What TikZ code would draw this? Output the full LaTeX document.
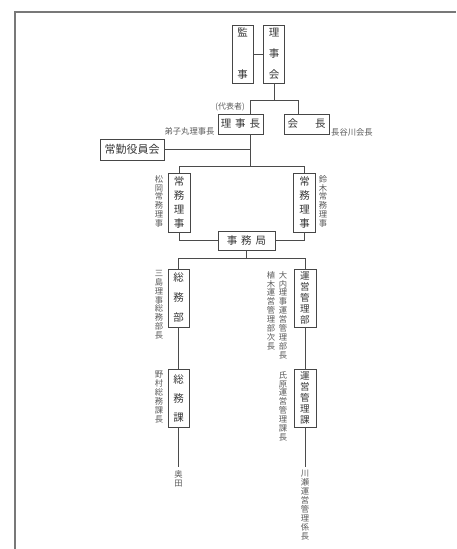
\documentclass[tikz,border=0pt]{standalone}
\usepackage{fontspec}
\setmainfont{Noto Sans CJK JP}
\definecolor{boxc}{RGB}{70,70,70}
\definecolor{linec}{RGB}{75,75,75}
\definecolor{txtc}{RGB}{55,55,55}
\definecolor{labc}{RGB}{90,90,90}
\definecolor{framec}{RGB}{120,120,120}
\tikzset{
  box/.style={draw=boxc, line width=0.8pt, inner sep=0pt, text=txtc, align=center},
  lab/.style={inner sep=0pt, text=labc, align=center, font=\fontsize{8.3}{8.9}\selectfont},
  conn/.style={draw=linec, line width=0.9pt},
  frame/.style={draw=framec, line width=1.4pt}
}
\begin{document}
\begin{tikzpicture}[x=1pt,y=-1pt]
\useasboundingbox (0,0) rectangle (456,549);
\draw[frame] (15,549) -- (15,12) -- (456,12);

% boxes
\node[box, minimum width=21pt, minimum height=58pt, font=\fontsize{10.5}{42}\selectfont] (kanji) at (242.5,54) {監\\事};
\node[box, minimum width=21pt, minimum height=58pt, font=\fontsize{10.5}{21}\selectfont] (rijikai) at (274,54) {理\\事\\会};
\node[box, minimum width=45pt, minimum height=20pt, font=\fontsize{10.5}{12}\selectfont] (rijicho) at (240.5,124) {理\hspace{4pt}事\hspace{4pt}長};
\node[box, minimum width=45pt, minimum height=20pt, font=\fontsize{10.5}{12}\selectfont] (kaicho) at (306.5,124) {会\hspace{17pt}長};
\node[box, minimum width=64pt, minimum height=21pt, font=\fontsize{11}{12}\selectfont] (joukin) at (132,149.5) {常勤役員会};
\node[box, minimum width=22pt, minimum height=59pt, font=\fontsize{10.5}{13.7}\selectfont] (jmL) at (179,202.5) {常\\務\\理\\事};
\node[box, minimum width=22pt, minimum height=59pt, font=\fontsize{10.5}{13.7}\selectfont] (jmR) at (304.5,202.5) {常\\務\\理\\事};
\node[box, minimum width=57pt, minimum height=19pt, font=\fontsize{10.5}{12}\selectfont] (jimu) at (246.5,240.5) {事\hspace{4pt}務\hspace{4pt}局};
\node[box, minimum width=21pt, minimum height=58pt, font=\fontsize{10.5}{20}\selectfont] (soumubu) at (178.5,298) {総\\務\\部};
\node[box, minimum width=21pt, minimum height=58pt, font=\fontsize{10.5}{19}\selectfont] (soumuka) at (178.5,398) {総\\務\\課};
\node[box, minimum width=22pt, minimum height=58pt, font=\fontsize{9.6}{11.2}\selectfont] (unbu) at (305,298) {運\\営\\管\\理\\部};
\node[box, minimum width=22pt, minimum height=58pt, font=\fontsize{9.6}{11.2}\selectfont] (unka) at (305,398) {運\\営\\管\\理\\課};

% labels
\node[lab, font=\fontsize{8}{9}\selectfont] (daihyo) at (230,107) {(代表者)};
\node[lab] (deshimaru) at (189.5,131) {弟子丸理事長};
\node[lab, anchor=west] (hasegawa) at (331,132) {長谷川会長};
\node[lab, anchor=north] (matsuoka) at (159,175) {松\\岡\\常\\務\\理\\事};
\node[lab, anchor=north] (suzuki) at (323,175) {鈴\\木\\常\\務\\理\\事};
\node[lab, anchor=north] (mishima) at (159,270) {三\\島\\理\\事\\総\\務\\部\\長};
\node[lab, anchor=north] (ouchi) at (283,271) {大\\内\\理\\事\\運\\営\\管\\理\\部\\長};
\node[lab, anchor=north] (ueki) at (271,271) {植\\木\\運\\営\\管\\理\\部\\次\\長};
\node[lab, anchor=north] (nomura) at (159,371) {野\\村\\総\\務\\課\\長};
\node[lab, anchor=north] (ujihara) at (283,371) {氏\\原\\運\\営\\管\\理\\課\\長};
\node[lab, anchor=north] (okuda) at (178.5,470) {奥\\田};
\node[lab, anchor=north] (kawase) at (305,470) {川\\瀬\\運\\営\\管\\理\\係\\長};

% connectors
\coordinate (j1l) at (250,100);
\coordinate (j1r) at (298,100);
\draw[conn] (kanji.east) -- (rijikai.west);
\draw[conn] (rijikai.south) -- (rijikai.south |- j1l);
\draw[conn] (j1l |- rijicho.north) -- (j1l) -- (j1r) -- (j1r |- kaicho.north);
\coordinate (t1) at (250,166);
\draw[conn] (t1 |- rijicho.south) -- (t1);
\draw[conn] (joukin.east) -- (joukin.east -| t1);
\draw[conn] (jmL.north) -- (jmL.north |- t1) -- (jmR.north |- t1) -- (jmR.north);
\draw[conn] (jmL.south) |- (jimu.west);
\draw[conn] (jmR.south) |- (jimu.east);
\coordinate (h2) at (247,258);
\draw[conn] (jimu.south) -- (jimu.south |- h2);
\draw[conn] (soumubu.north) -- (soumubu.north |- h2) -- (unbu.north |- h2) -- (unbu.north);
\draw[conn] (soumubu.south) -- (soumuka.north);
\draw[conn] (unbu.south) -- (unka.north);
\draw[conn, shorten >=3pt] (soumuka.south) -- (okuda.north);
\draw[conn, shorten >=3pt] (unka.south) -- (kawase.north);
\end{tikzpicture}
\end{document}
